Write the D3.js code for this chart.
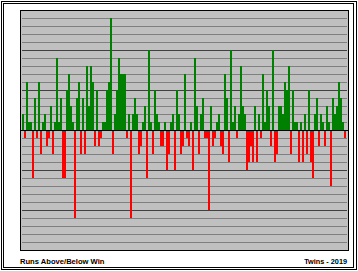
<!DOCTYPE html>
<html>
<head>
<meta charset="utf-8">
<script src="https://cdn.jsdelivr.net/npm/d3@7"></script>
<style>
  body { margin: 0; background: #fff; }
  svg { display: block; }
</style>
</head>
<body>
<svg width="358" height="271"></svg>
<script>
// run differential per game, games 1..162
const runDiff = [
  2, -1, 6, 1, 1, -6, 4, -1, 6, -3, 1, 2, -2, -1, 3, -3, 1, 9, 1, 4,
  -6, -6, 5, 7, 3, 1, -11, 4, 6, -3, 4, -3, 8, 3, 8, 6, -2, 5, -2,
  -1, 1, 1, 5, 6, 14, -3, 2, 5, 9, 7, 7, 7, -1, 2, -11, 2, 4, 2, -3,
  -2, 1, 3, -6, 10, 1, -3, 5, 2, 1, -2, -2, 1, -5, -3, 1, 2, -5, 5, 2,
  -3, -2, 7, -1, -2, 1, -5, 9, 3, -3, 2, 4, -1, -1, -10, 3, -2, -1, 1, 2,
  -2, -3, 7, 4, -4, 10, 1, 3, -1, 2, 8, 3, 2, -5, -4, -2, -4, 3, -4, 2,
  -1, 7, 1, 5, 3, -2, 10, -4, -3, 3, 3, 2, 6, 5, 8, -3, 5, 1, 1, -4,
  1, -4, 2, -3, 5, -4, -6, 2, 4, -2, 2, 1, -2, 3, 1, -7, 4, 2, 3, 6,
  4, 1, -1
];
const gridRuns = [-14, -13, -12, -11, -10, -9, -8, -7, -6, -5, -4, -3, -2, -1,
  1, 2, 3, 4, 5, 6, 7, 8, 9, 10, 11, 12, 13, 14];
const leftLabel = 'Runs Above/Below Win';
const rightLabel = 'Twins - 2019';

function renderChart() {
  var svg = d3.select('svg');

  // double frame
  svg.append('rect')
    .attr('x', 1.5).attr('y', 1.5)
    .attr('width', 355).attr('height', 268)
    .attr('fill', 'none').attr('stroke', '#000');
  svg.append('rect')
    .attr('x', 3.5).attr('y', 3.5)
    .attr('width', 350).attr('height', 264)
    .attr('fill', 'none').attr('stroke', '#000');

  // plot area
  svg.append('rect')
    .attr('x', 20.5).attr('y', 10.5)
    .attr('width', 328).attr('height', 240)
    .attr('fill', '#c0c0c0').attr('stroke', '#000');

  var x = d3.scaleBand()
    .domain(d3.range(runDiff.length))
    .range([22, 346])
    .padding(0);

  var y = d3.scaleLinear().domain([-15, 15]).range([250, 10]);

  svg.append('g').selectAll('line')
    .data(gridRuns)
    .join('line')
    .attr('x1', 22)
    .attr('x2', 347)
    .attr('y1', (d) => y(d) + 0.5)
    .attr('y2', (d) => y(d) + 0.5)
    .attr('stroke', (d) => (d % 5 === 0 ? '#404040' : '#808080'))
    .attr('stroke-width', 1);

  svg.append('g').selectAll('rect')
    .data(runDiff)
    .join('rect')
    .attr('x', (d, i) => x(i))
    .attr('width', x.bandwidth())
    .attr('y', (d) => (d > 0 ? y(d) : y(0)))
    .attr('height', (d) => Math.abs(y(d) - y(0)))
    .attr('fill', (d) => (d > 0 ? '#008000' : '#ff0000'));

  // zero line
  svg.append('line')
    .attr('x1', 21).attr('x2', 348)
    .attr('y1', y(0) + 0.5).attr('y2', y(0) + 0.5)
    .attr('stroke', '#000');

  svg.append('text')
    .attr('x', 20)
    .attr('y', 264)
    .attr('font-family', 'Liberation Sans, Arial, sans-serif')
    .attr('font-size', '7.6px')
    .attr('font-weight', 'bold')
    .attr('fill', '#000')
    .text(leftLabel);

  svg.append('text')
    .attr('x', 347)
    .attr('y', 264)
    .attr('text-anchor', 'end')
    .attr('font-family', 'Liberation Sans, Arial, sans-serif')
    .attr('font-size', '7.3px')
    .attr('font-weight', 'bold')
    .attr('fill', '#000')
    .text(rightLabel);
}

renderChart();
</script>
</body>
</html>
